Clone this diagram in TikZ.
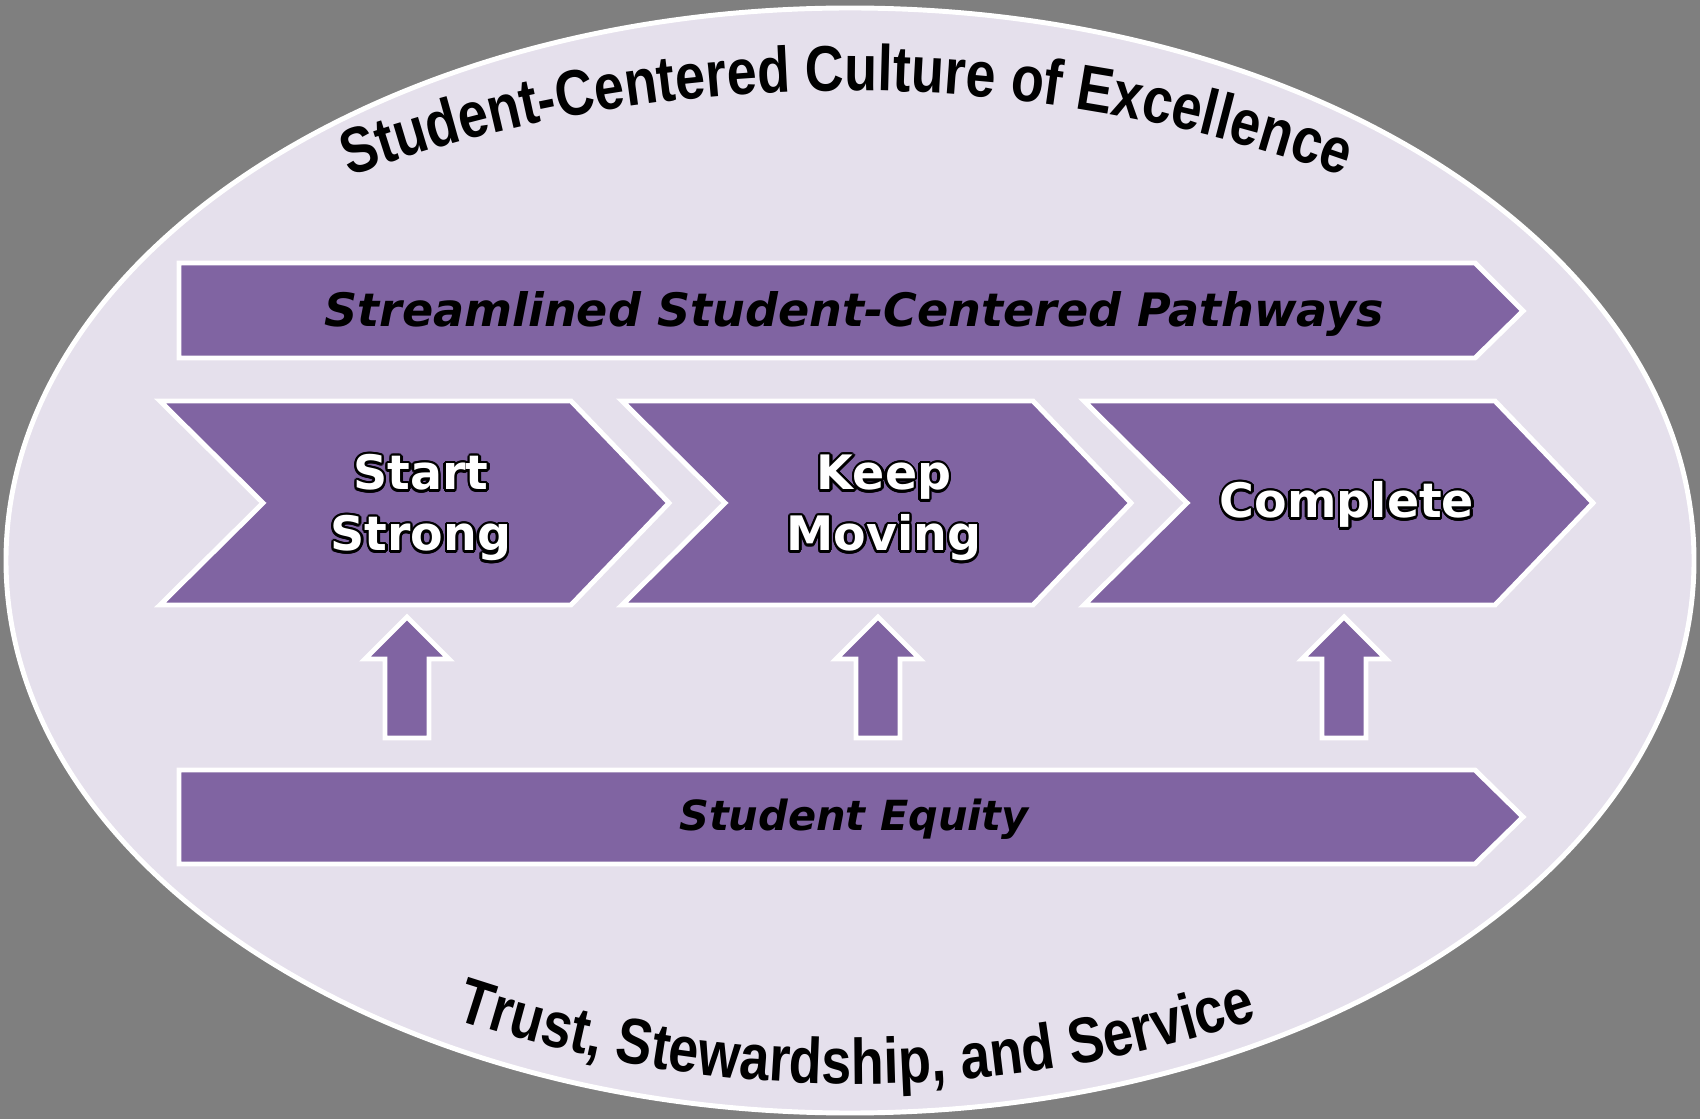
\documentclass[tikz,border=0pt]{standalone}
\usepackage{fontspec}
\setmainfont{Liberation Sans}
\newfontfamily\heavyfont{DejaVu Sans}
\usepackage{contour}
\contourlength{0.7pt}
\usetikzlibrary{decorations.text}
\definecolor{backgray}{HTML}{7F7F7F}
\definecolor{lavender}{HTML}{E5E0EC}
\definecolor{plum}{HTML}{8064A2}
\newcommand\archfont{\bfseries\fontsize{15.3}{18}\selectfont}
\tikzset{
  block/.style={fill=plum,draw=white,line width=1.4pt},
  steptext/.style={anchor=base,text=white,font=\heavyfont\bfseries\fontsize{13.5}{16}\selectfont},
  bartext/.style={anchor=base,font=\heavyfont\bfseries\itshape\fontsize{13.1}{16}\selectfont},
  archtext/.style={decorate,decoration={text effects along path,text align=center,
    text={#1},text effects/.cd,text along path,characters={font=\archfont,yscale=1.2}}},
}
\begin{document}
\begin{tikzpicture}[x=0.01cm,y=-0.01cm]
\useasboundingbox (0,0) rectangle (1700,1119);
\fill[backgray] (0,0) rectangle (1700,1119);
\draw[fill=lavender,draw=white,line width=1.4pt] (850,560.5) ellipse[x radius=844,y radius=552.5];
%
\path[archtext={Student-Centered Culture of Excellence}]
  (148.9,264.4) arc[start angle=-118,end angle=-62,radius=1485];
\path[archtext={Trust, Stewardship, and Service}]
  (319.3,965) arc[start angle=115,end angle=65,radius=1270];
%
\draw[block] (179,263) -- (1475,263) -- (1523,311) -- (1475,358) -- (179,358) -- cycle;
\draw (854,327) node[bartext](pathways){Streamlined Student-Centered Pathways};
%
\draw[block] (160,401) -- (571,401) -- (669,503) -- (571,605) -- (160,605) -- (263,503) -- cycle;
\draw (421,490) node[steptext](start){\contour{black}{Start}};
\draw (421,551) node[steptext](strong){\contour{black}{Strong}};
\draw[block] (622,401) -- (1033,401) -- (1131,503) -- (1033,605) -- (622,605) -- (725,503) -- cycle;
\draw (884,490) node[steptext](keep){\contour{black}{Keep}};
\draw (884,551) node[steptext](moving){\contour{black}{Moving}};
\draw[block] (1084,401) -- (1495,401) -- (1593,503) -- (1495,605) -- (1084,605) -- (1187,503) -- cycle;
\draw (1347,518) node[steptext](complete){\contour{black}{Complete}};
%
\foreach \x in {407,878,1344}
  \draw[block] (\x,617) -- (\x+42,659) -- (\x+22,659) -- (\x+22,738)
    -- (\x-22,738) -- (\x-22,659) -- (\x-42,659) -- cycle;
%
\draw[block] (179,770) -- (1475,770) -- (1523,817) -- (1475,864) -- (179,864) -- cycle;
\draw (854,830) node[bartext,font=\heavyfont\bfseries\itshape\fontsize{11.8}{14}\selectfont](equity){Student Equity};
\end{tikzpicture}
\end{document}
